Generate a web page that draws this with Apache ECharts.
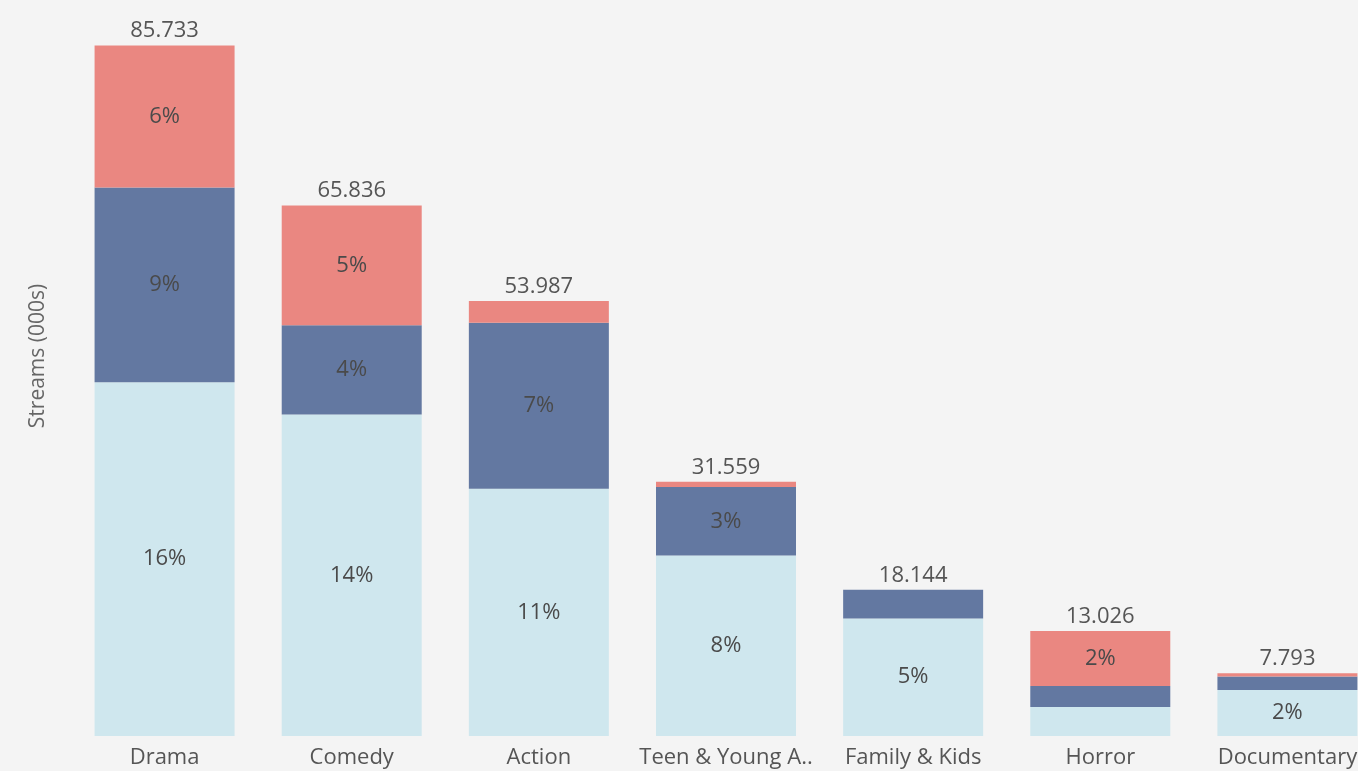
<!DOCTYPE html>
<html>
<head>
<meta charset="utf-8">
<script src="https://cdn.jsdelivr.net/npm/echarts@6/dist/echarts.min.js"></script>
<style>
  html, body { margin: 0; padding: 0; background: #f4f4f4; }
  #chart { width: 1358px; height: 771px; }
</style>
</head>
<body>
<div id="chart"></div>
<script>
// genres, sorted by total streams
const categories = ['Drama', 'Comedy', 'Action', 'Teen & Young A..', 'Family & Kids', 'Horror', 'Documentary']

// stacked parts, bottom -> top (thousands of streams)
const lightPart = [43.9, 39.9, 30.7, 22.4, 14.6, 3.6, 5.7]
const darkPart = [24.2, 11.1, 20.6, 8.5, 3.54, 2.6, 1.7]
const redPart = [17.63, 14.84, 2.69, 0.66, 0, 6.83, 0.39]

// totals as printed above each bar
const totals = [85.733, 65.836, 53.987, 31.559, 18.144, 13.026, 7.793]

const FONT = '"Open Sans", "Noto Sans", sans-serif'
const grand = totals.reduce((a, b) => a + b, 0)

// tableau only labels segments that are big enough
function pctLabel(p) {
  if (p.value < 5) return ''
  return Math.round(p.value / grand * 100) + '%'
}

function part(name, data, color) {
  return {
    name,
    type: 'bar',
    stack: 'total',
    data,
    barWidth: 140,
    itemStyle: { color },
    label: {
      show: true,
      position: 'inside',
      formatter: pctLabel,
      color: '#4a4a4a',
      fontSize: 22,
      fontFamily: FONT
    },
    emphasis: { disabled: true }
  }
}

const chart = echarts.init(document.getElementById('chart'))
chart.setOption({
  backgroundColor: '#f4f4f4',
  animation: false,
  grid: { left: 71, top: 11, bottom: 35, width: 1310, outerBoundsMode: 'none', containLabel: false },
  xAxis: {
    type: 'category',
    data: categories,
    axisLine: { show: false },
    axisTick: { show: false },
    axisLabel: { color: '#555', fontSize: 22, fontFamily: FONT, margin: 11, interval: 0 }
  },
  yAxis: {
    type: 'value',
    min: 0,
    max: 90,
    name: 'Streams (000s)',
    nameLocation: 'middle',
    nameGap: 22,
    nameTextStyle: { color: '#666', fontSize: 21, fontFamily: FONT, padding: [0, 0, 0, 35] },
    axisLabel: { show: false },
    axisLine: { show: false },
    axisTick: { show: false },
    splitLine: { show: false }
  },
  series: [
    part('light', lightPart, '#cfe7ee'),
    part('dark', darkPart, '#6378a1'),
    part('red', redPart, '#ea8781'),
    {
      name: 'total',
      type: 'line',
      data: totals,
      symbol: 'circle',
      symbolSize: 1,
      itemStyle: { color: 'rgba(0,0,0,0)' },
      lineStyle: { opacity: 0 },
      label: {
        show: true,
        position: 'top',
        distance: 3,
        formatter: p => p.value.toFixed(3),
        color: '#555',
        fontSize: 22,
        fontFamily: FONT
      },
      emphasis: { disabled: true }
    }
  ]
})
</script>
</body>
</html>
